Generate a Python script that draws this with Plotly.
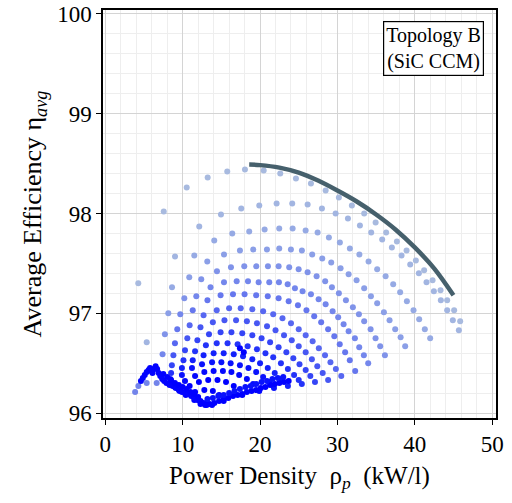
import plotly.graph_objects as go

# ---------------- data ----------------
arc01_x = [4.26, 7.55, 10.52, 13.23, 15.76, 18.05, 20.47, 22.61, 24.64, 26.58, 28.48, 30.19, 31.87, 33.46, 34.94, 36.30, 37.69, 38.94, 40.14, 41.21, 42.30, 43.33, 44.19, 45.09, 45.87]
arc01_y = [97.30, 98.02, 98.26, 98.36, 98.42, 98.44, 98.43, 98.40, 98.35, 98.30, 98.23, 98.16, 98.08, 98.00, 97.91, 97.81, 97.72, 97.63, 97.53, 97.43, 97.33, 97.23, 97.13, 97.03, 96.92]

arc02_x = [5.35, 9.01, 12.14, 14.95, 17.57, 19.90, 22.14, 24.16, 26.15, 28.00, 29.77, 31.36, 32.91, 34.37, 35.79, 37.04, 38.29, 39.41, 40.53, 41.52, 42.47, 43.37, 44.19, 44.92, 45.70]
arc02_y = [96.71, 97.57, 97.87, 97.99, 98.05, 98.08, 98.10, 98.10, 98.09, 98.05, 98.00, 97.95, 97.88, 97.81, 97.74, 97.66, 97.58, 97.49, 97.40, 97.31, 97.22, 97.13, 97.03, 96.93, 96.83]

arc03_x = [8.62, 11.50, 14.08, 16.41, 18.60, 20.59, 22.48, 24.21, 25.89, 27.44, 28.90, 30.32, 31.61, 32.84, 34.03, 35.14, 36.23, 37.21, 38.11, 38.98, 39.84, 40.57, 41.30, 41.99]
arc03_y = [97.26, 97.58, 97.73, 97.80, 97.82, 97.84, 97.85, 97.85, 97.83, 97.81, 97.76, 97.71, 97.65, 97.59, 97.52, 97.44, 97.37, 97.29, 97.21, 97.12, 97.03, 96.94, 96.84, 96.75]

arc04_x = [8.14, 10.85, 13.18, 15.34, 17.40, 19.12, 20.89, 22.48, 23.99, 25.41, 26.74, 28.04, 29.20, 30.41, 31.45, 32.48, 33.46, 34.33, 35.14, 36.01, 36.74, 37.47, 38.17, 38.76]
arc04_y = [97.00, 97.36, 97.52, 97.59, 97.63, 97.64, 97.64, 97.65, 97.64, 97.63, 97.59, 97.55, 97.51, 97.45, 97.39, 97.33, 97.25, 97.17, 97.10, 97.01, 96.93, 96.84, 96.76, 96.67]

arc05_x = [7.70, 10.21, 12.40, 14.43, 16.24, 17.96, 19.51, 21.02, 22.40, 23.77, 24.99, 26.15, 27.31, 28.42, 29.29, 30.19, 31.10, 32.00, 32.78, 33.46, 34.29, 34.93, 35.53, 36.14]
arc05_y = [96.79, 97.15, 97.34, 97.42, 97.46, 97.47, 97.47, 97.47, 97.47, 97.46, 97.44, 97.41, 97.37, 97.32, 97.26, 97.20, 97.13, 97.06, 96.99, 96.92, 96.84, 96.75, 96.67, 96.58]

arc06_x = [7.40, 9.69, 11.76, 13.60, 15.34, 16.98, 18.44, 19.82, 21.19, 22.44, 23.57, 24.51, 25.50, 26.58, 27.57, 28.48, 29.38, 30.10, 30.80, 31.45, 32.26, 32.82, 33.42, 33.98]
arc06_y = [96.59, 96.99, 97.17, 97.26, 97.31, 97.32, 97.32, 97.31, 97.31, 97.31, 97.29, 97.25, 97.22, 97.19, 97.14, 97.09, 97.02, 96.96, 96.89, 96.82, 96.75, 96.66, 96.58, 96.50]

arc07_x = [9.3, 11.3, 13.2, 14.9, 16.5, 18.0, 19.5, 21.0, 22.4, 23.7, 24.9, 26.0, 27.0, 27.9, 28.8, 29.6, 30.3, 31.0, 31.6, 32.3]
arc07_y = [96.84, 97.03, 97.13, 97.18, 97.19, 97.19, 97.18, 97.17, 97.15, 97.12, 97.08, 97.03, 96.97, 96.91, 96.84, 96.77, 96.69, 96.61, 96.53, 96.42]

arc08_x = [9.0, 10.9, 12.7, 14.4, 16.0, 17.5, 19.0, 20.4, 21.7, 22.9, 24.0, 25.0, 25.9, 26.8, 27.6, 28.4, 29.1, 29.8, 30.5]
arc08_y = [96.70, 96.88, 96.98, 97.03, 97.05, 97.05, 97.04, 97.02, 96.99, 96.95, 96.90, 96.84, 96.78, 96.72, 96.65, 96.58, 96.51, 96.44, 96.37]

arc09_x = [8.8, 10.6, 12.3, 13.9, 15.4, 16.9, 18.3, 19.6, 20.9, 22.0, 23.1, 24.1, 25.0, 25.9, 26.7, 27.4, 28.1, 28.8]
arc09_y = [96.58, 96.75, 96.86, 96.91, 96.93, 96.93, 96.92, 96.90, 96.87, 96.83, 96.78, 96.73, 96.67, 96.61, 96.54, 96.47, 96.40, 96.33]

arc10_x = [8.6, 10.3, 11.9, 13.4, 14.9, 16.3, 17.7, 19.0, 20.2, 21.3, 22.4, 23.4, 24.3, 25.1, 25.9, 26.5, 27.1]
arc10_y = [96.48, 96.63, 96.73, 96.79, 96.81, 96.81, 96.80, 96.78, 96.75, 96.71, 96.66, 96.61, 96.55, 96.49, 96.43, 96.37, 96.31]

arc11_x = [8.5, 10.1, 11.6, 13.0, 14.4, 15.8, 17.1, 18.4, 19.6, 20.7, 21.7, 22.7, 23.6, 24.4, 25.0, 25.4]
arc11_y = [96.40, 96.53, 96.62, 96.68, 96.70, 96.70, 96.69, 96.67, 96.64, 96.60, 96.56, 96.50, 96.44, 96.38, 96.33, 96.29]

arc12_x = [8.4, 9.9, 11.3, 12.7, 14.0, 15.3, 16.6, 17.8, 19.0, 20.0, 21.0, 21.9, 22.8, 23.6]
arc12_y = [96.34, 96.45, 96.53, 96.58, 96.60, 96.60, 96.59, 96.57, 96.54, 96.50, 96.45, 96.40, 96.34, 96.27]

arc13_x = [8.5, 9.9, 11.2, 12.5, 13.8, 15.0, 16.2, 17.4, 18.5, 19.5, 20.4, 21.2, 21.8]
arc13_y = [96.30, 96.38, 96.45, 96.49, 96.51, 96.51, 96.50, 96.48, 96.45, 96.41, 96.36, 96.31, 96.25]

arc14_x = [9.0, 10.3, 11.6, 12.8, 14.0, 15.2, 16.3, 17.3, 18.3, 19.1, 19.9]
arc14_y = [96.26, 96.32, 96.37, 96.41, 96.42, 96.42, 96.41, 96.38, 96.34, 96.29, 96.22]

arc15_x = [9.6, 10.9, 12.1, 13.3, 14.5, 15.6, 16.6, 17.7]
arc15_y = [96.22, 96.27, 96.31, 96.33, 96.33, 96.31, 96.27, 96.18]

arc16_x = [10.4, 11.6, 12.8, 13.9, 14.7, 15.3]
arc16_y = [96.18, 96.21, 96.23, 96.22, 96.18, 96.12]

arc17_x = [11.5, 12.3, 13.1, 13.8]
arc17_y = [96.13, 96.12, 96.10, 96.08]

hook_x = [17.4, 17.9]
hook_y = [96.65, 96.61]

zig_light_x = [3.85, 4.27, 5.35, 6.64]
zig_light_y = [96.21, 96.27, 96.30, 96.30]

zig_dark_x = [4.6, 4.85, 5.1, 5.35, 5.6, 5.78, 5.95, 6.1, 6.3, 6.5, 6.7, 6.9, 7.1, 7.35, 7.6, 7.9, 8.3, 8.7, 9.1, 9.5, 9.9, 10.3, 10.7, 11.1, 11.5, 11.9, 12.3, 12.7, 13.1]
zig_dark_y = [96.32, 96.35, 96.38, 96.41, 96.43, 96.45, 96.42, 96.40, 96.44, 96.47, 96.44, 96.40, 96.37, 96.34, 96.32, 96.30, 96.28, 96.27, 96.25, 96.23, 96.21, 96.20, 96.19, 96.17, 96.15, 96.13, 96.11, 96.10, 96.08]

band_left_x = [7.5, 8.0, 8.5, 9.0, 9.5, 10.0, 10.5, 11.0, 11.5, 12.0]
band_left_y = [96.39, 96.36, 96.33, 96.30, 96.28, 96.26, 96.24, 96.21, 96.19, 96.16]

band_low_x = [12.3, 12.9, 13.5, 14.1, 14.7, 15.3, 15.9, 16.5, 17.1, 17.7, 18.3, 18.9, 19.5, 20.1, 20.7, 21.3, 21.9, 22.5, 23.1, 23.7]
band_low_y = [96.09, 96.08, 96.09, 96.10, 96.12, 96.14, 96.15, 96.17, 96.18, 96.19, 96.21, 96.22, 96.23, 96.25, 96.26, 96.28, 96.29, 96.30, 96.31, 96.32]

band_up_x = [13.2, 13.9, 14.6, 15.3, 16.0, 16.7, 17.4, 18.1, 18.8, 19.5, 20.2, 20.9, 21.6, 22.3, 23.0]
band_up_y = [96.14, 96.15, 96.17, 96.18, 96.20, 96.22, 96.24, 96.26, 96.27, 96.29, 96.31, 96.32, 96.34, 96.35, 96.36]

pareto_x = [18.6, 20.0, 22.5, 25.0, 27.5, 30.0, 32.5, 35.0, 37.5, 40.0, 42.5, 45.0]
pareto_y = [98.49, 98.485, 98.46, 98.41, 98.33, 98.23, 98.12, 97.99, 97.84, 97.66, 97.45, 97.18]

x_ticks = [0, 10, 20, 30, 40, 50]
y_ticks = [96, 97, 98, 99, 100]

# ---------------- figure ----------------
series = [
    (arc01_x, arc01_y, "#A8BADF"), (arc02_x, arc02_y, "#A2B5E1"),
    (arc03_x, arc03_y, "#96AAE4"), (arc04_x, arc04_y, "#8B9FE7"),
    (arc05_x, arc05_y, "#8093E9"), (arc06_x, arc06_y, "#7487EC"),
    (arc07_x, arc07_y, "#6677EE"), (arc08_x, arc08_y, "#5767F1"),
    (arc09_x, arc09_y, "#4757F3"), (arc10_x, arc10_y, "#3545F6"),
    (arc11_x, arc11_y, "#2433F9"), (arc12_x, arc12_y, "#1421FB"),
    (arc13_x, arc13_y, "#0A12FD"), (arc14_x, arc14_y, "#0408FE"),
    (arc15_x, arc15_y, "#0000FF"), (arc16_x, arc16_y, "#0000FF"),
    (arc17_x, arc17_y, "#0000FF"), (hook_x, hook_y, "#0000FF"),
    (zig_light_x, zig_light_y, "#7384EA"), (zig_dark_x, zig_dark_y, "#0303FF"),
    (band_left_x, band_left_y, "#0000FF"), (band_low_x, band_low_y, "#0000FF"),
    (band_up_x, band_up_y, "#0A12FD"),
]

fig = go.Figure()
for xs, ys, col in series:
    fig.add_trace(go.Scatter(x=xs, y=ys, mode="markers",
                             marker=dict(size=6, color=col, line=dict(width=0)),
                             showlegend=False, hoverinfo="skip"))

fig.add_trace(go.Scatter(x=pareto_x, y=pareto_y, mode="lines",
                         line=dict(color="#46606C", width=4.5, shape="spline"),
                         showlegend=False, hoverinfo="skip"))

font_family = "Liberation Serif, Times New Roman, serif"
axis_common = dict(
    showline=True, linecolor="black", linewidth=1.5, mirror=True,
    ticks="outside", ticklen=5, tickwidth=1.2, tickcolor="black",
    showgrid=True, gridcolor="#D4D4D4", gridwidth=1.3,
    zeroline=False, automargin=False,
    tickfont=dict(family=font_family, size=23, color="black"),
)

fig.update_xaxes(
    range=[-0.3, 50.5], tickvals=x_ticks,
    minor=dict(dtick=2, tick0=0, showgrid=True, gridcolor="#EEEEEE", gridwidth=1),
    title=dict(text="Power Density\u00a0 \u03c1<sub><i>p</i></sub>\u00a0 (kW/l)",
               font=dict(family=font_family, size=25, color="black"), standoff=10),
    **axis_common)
fig.update_yaxes(
    range=[95.95, 100.04], tickvals=y_ticks,
    minor=dict(dtick=0.2, tick0=96, showgrid=True, gridcolor="#EEEEEE", gridwidth=1),
    title=dict(text="Average Efficiency \u03b7<sub><i>avg</i></sub>",
               font=dict(family=font_family, size=26, color="black"), standoff=8),
    **axis_common)

fig.add_annotation(
    x=0.969, y=0.973, xref="paper", yref="paper", xanchor="right", yanchor="top",
    text="Topology B<br>(SiC CCM)", showarrow=False, align="center",
    font=dict(family=font_family, size=20, color="black"),
    bordercolor="black", borderwidth=1.2, borderpad=2, bgcolor="white")

fig.update_layout(
    width=512, height=503,
    margin=dict(l=103, r=16, t=10, b=85, autoexpand=False),
    plot_bgcolor="white", paper_bgcolor="white",
    font=dict(family=font_family, color="black"),
)

fig.write_html("out.html", config={"displayModeBar": False},
               post_script="document.body.style.margin='0';")
